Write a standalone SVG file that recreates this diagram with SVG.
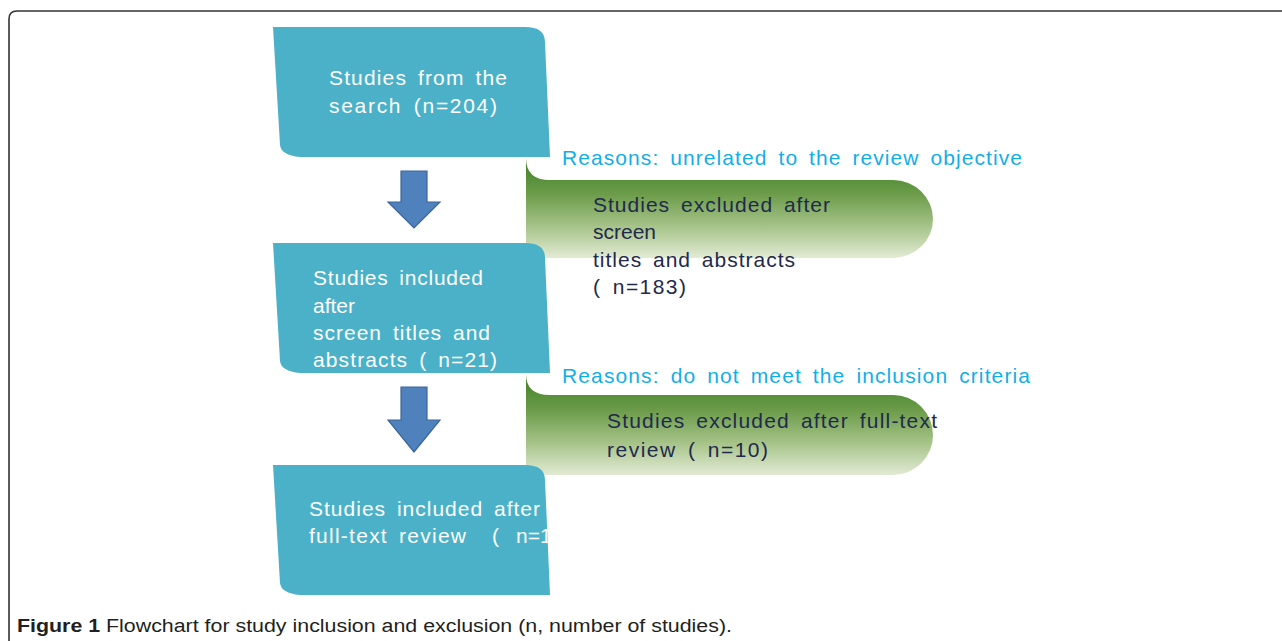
<svg xmlns="http://www.w3.org/2000/svg" width="1282" height="641" viewBox="0 0 1282 641">
<style>
.frame{fill:none;stroke:#333;stroke-width:1.6}
.blue{fill:#4ab1c9}
.arrow{fill:#4f81bd;stroke:#3a6599;stroke-width:1.2}
.wt{font-family:"Liberation Sans",Arial,sans-serif;font-size:21px;fill:#ffffff;word-spacing:4px}
.dt{font-family:"Liberation Sans",Arial,sans-serif;font-size:21px;fill:#1f2a4d;word-spacing:4px}
.rt{font-family:"Liberation Sans",Arial,sans-serif;font-size:21px;fill:#12aee8;word-spacing:4px}
.cap{font-family:"Liberation Sans",Arial,sans-serif;font-size:18px;fill:#231f20}
</style>
<defs>
<linearGradient id="g" x1="0" y1="0" x2="0" y2="1">
<stop offset="0" stop-color="#3f7f28"/>
<stop offset="0.35" stop-color="#6a9b48"/>
<stop offset="0.7" stop-color="#a9c58c"/>
<stop offset="1" stop-color="#e2ebd4"/>
</linearGradient>
<clipPath id="c3"><path d="M273,465 H527 Q545,466 545,478 L550,595 H300 Q281,593 280,583 Z"/></clipPath>
</defs>
<rect width="1282" height="641" fill="#ffffff"/>
<path class="frame" d="M9,641 V19 Q9,11 17,11 H1282"/>

<g id="exclude1">
<path fill="url(#g)" d="M526,158 Q526,180 550,180 H893 A40,39 0 0 1 893,258 H536 Q526,258 526,248 Z"/>
<text class="rt" x="562" y="165" textLength="460" lengthAdjust="spacing">Reasons: unrelated to the review objective</text>
<text class="dt" x="593" y="212" textLength="237" lengthAdjust="spacing">Studies excluded after</text>
<text class="dt" x="593" y="239">screen</text>
<text class="dt" x="593" y="267" textLength="202" lengthAdjust="spacing">titles and abstracts</text>
<text class="dt" x="593" y="294" textLength="93" lengthAdjust="spacing">( n=183)</text>
</g>

<g id="exclude2">
<path fill="url(#g)" d="M526,374 Q526,395 550,395 H893 A40,40 0 0 1 893,475 H536 Q526,475 526,465 Z"/>
<text class="rt" x="562" y="383" textLength="468" lengthAdjust="spacing">Reasons: do not meet the inclusion criteria</text>
<text class="dt" x="607" y="428" textLength="330" lengthAdjust="spacing">Studies excluded after full-text</text>
<text class="dt" x="607" y="457" textLength="161" lengthAdjust="spacing">review ( n=10)</text>
</g>

<g id="search">
<path class="blue" d="M273,27 H525 Q545,27 545,42 L550,157 H300 Q281,155 280,145 Z"/>
<text class="wt" x="329" y="85" textLength="178" lengthAdjust="spacing">Studies from the</text>
<text class="wt" x="329" y="113" textLength="168" lengthAdjust="spacing">search (n=204)</text>
</g>

<g id="included1">
<path class="blue" d="M273,243 H525 Q545,243 545,258 L550,373 H300 Q281,371 280,361 Z"/>
<text class="wt" x="313" y="285" textLength="170" lengthAdjust="spacing">Studies included</text>
<text class="wt" x="313" y="313">after</text>
<text class="wt" x="313" y="340" textLength="177" lengthAdjust="spacing">screen titles and</text>
<text class="wt" x="313" y="367" textLength="184" lengthAdjust="spacing">abstracts ( n=21)</text>
</g>

<g id="included2">
<path class="blue" d="M273,465 H525 Q545,465 545,480 L550,595 H300 Q281,593 280,583 Z"/>
<g clip-path="url(#c3)">
<text class="wt" x="309" y="516" textLength="231" lengthAdjust="spacing">Studies included after</text>
<text class="wt" y="543"><tspan x="309" textLength="157" lengthAdjust="spacing">full-text review</tspan><tspan x="492">(</tspan><tspan x="516">n=10)</tspan></text>
</g>
</g>

<g id="connectors">
<path class="arrow" d="M401,171 H427 V202 H440 L414,228 L388,202 H401 Z"/>
<path class="arrow" d="M401,387 H427 V420 H440 L414,452 L388,420 H401 Z"/>
</g>

<text class="cap" x="17" y="632" textLength="715" lengthAdjust="spacingAndGlyphs"><tspan font-weight="bold">Figure 1</tspan> Flowchart for study inclusion and exclusion (n, number of studies).</text>
</svg>
